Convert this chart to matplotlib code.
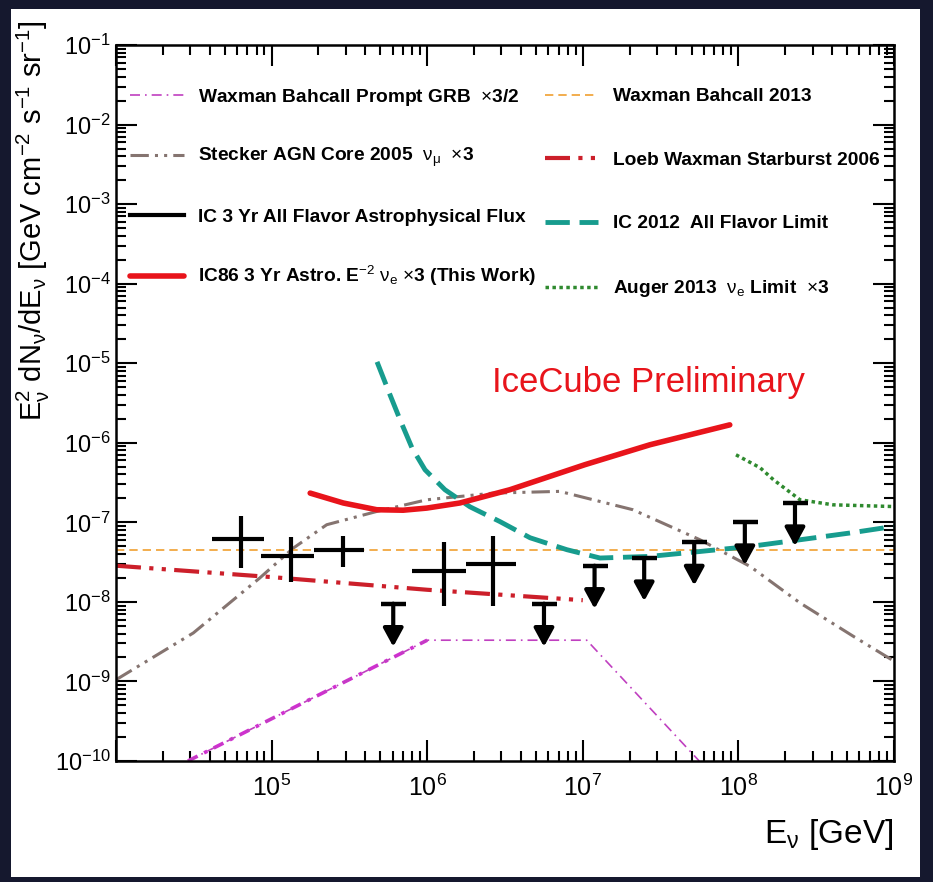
import numpy as np
import matplotlib
matplotlib.use('Agg')
import matplotlib.pyplot as plt
from matplotlib.patches import Rectangle
from matplotlib.ticker import LogLocator, NullFormatter

plt.rcParams['font.family'] = ['Liberation Sans', 'DejaVu Sans']
plt.rcParams['mathtext.fontset'] = 'custom'
plt.rcParams['mathtext.rm'] = 'Liberation Sans'
plt.rcParams['mathtext.it'] = 'Liberation Sans:italic'
plt.rcParams['mathtext.bf'] = 'Liberation Sans:bold'

# energies in GeV, E^2 dN/dE in GeV cm^-2 s^-1 sr^-1
grb_e = [2.9e4, 1.0e6, 1.06e7, 5.6e7]
grb_f = [1.0e-10, 3.3e-9, 3.3e-9, 1.0e-10]

stecker_e = [1e4, 3.14e4, 8.4e4, 1.38e5, 2.26e5, 4.74e5, 9.93e5, 2.66e6, 7.1e6,
             2.1e7, 5.66e7, 1.19e8, 2.49e8, 5.47e8, 1e9]
stecker_f = [1.05e-9, 4.07e-9, 2.0e-8, 4.75e-8, 9.33e-8, 1.37e-7, 1.92e-7, 2.33e-7, 2.45e-7,
             1.44e-7, 6.04e-8, 2.79e-8, 9.7e-9, 3.7e-9, 1.8e-9]

wb2013_e = [1e4, 1e9]
wb2013_f = [4.43e-8, 4.43e-8]

loeb_e = [1e4, 1e5, 1e6, 1e7]
loeb_f = [2.85e-8, 2.05e-8, 1.42e-8, 1.05e-8]

ic86_e = [1.77e5, 2.26e5, 2.89e5, 4.74e5, 7.0e5, 9.93e5, 1.62e6, 3.4e6, 1.03e7, 2.7e7, 8.8e7]
ic86_f = [2.33e-7, 2.02e-7, 1.75e-7, 1.44e-7, 1.42e-7, 1.51e-7, 1.75e-7, 2.57e-7, 5.3e-7, 9.44e-7, 1.68e-6]

ic2012_e = [4.76e5, 5.77e5, 6.69e5, 7.99e5, 9.68e5, 1.30e6, 1.88e6, 2.94e6, 4.58e6, 7.9e6,
            1.29e7, 2.7e7, 5.66e7, 1.19e8, 2.49e8, 5.2e8, 1e9]
ic2012_f = [1.04e-5, 4.0e-6, 1.95e-6, 8.6e-7, 4.58e-7, 2.57e-7, 1.57e-7, 1.02e-7, 6.4e-8, 4.53e-8,
            3.56e-8, 3.73e-8, 4.3e-8, 4.98e-8, 6.04e-8, 7.34e-8, 8.9e-8]

auger_e = [9.65e7, 1.38e8, 1.68e8, 2.49e8, 4.06e8, 9.86e8]
auger_f = [7.06e-7, 4.85e-7, 3.43e-7, 1.92e-7, 1.66e-7, 1.58e-7]

# IC 3 yr all flavor points
pts_e = [6.4e4, 1.33e5, 2.89e5, 1.28e6, 2.64e6]
pts_elo = [4.12e4, 8.6e4, 1.87e5, 8.0e5, 1.78e6]
pts_ehi = [8.9e4, 1.87e5, 3.9e5, 1.78e6, 3.7e6]
pts_f = [6.17e-8, 3.8e-8, 4.53e-8, 2.47e-8, 3.02e-8]
pts_flo = [2.67e-8, 1.76e-8, 2.74e-8, 8.8e-9, 8.8e-9]
pts_fhi = [1.19e-7, 6.5e-8, 6.65e-8, 5.66e-8, 6.8e-8]

# upper limits
ul_e = [6.05e5, 5.63e6, 1.19e7, 2.48e7, 5.2e7, 1.1e8, 2.31e8]
ul_f = [9.5e-9, 9.5e-9, 2.85e-8, 3.56e-8, 5.6e-8, 1.01e-7, 1.75e-7]

xtick_vals = [1e4, 1e5, 1e6, 1e7, 1e8, 1e9]
xtick_labels = ['', r'$10^{5}$', r'$10^{6}$', r'$10^{7}$', r'$10^{8}$', r'$10^{9}$']
ytick_vals = [10.0 ** k for k in range(-10, 0)]
ytick_labels = [r'$10^{%d}$' % k for k in range(-10, 0)]

labels = [
    r'Waxman Bahcall Prompt GRB  $\times$3/2',
    r'Stecker AGN Core 2005  $\mathrm{\nu_{\mu}}$  $\times$3',
    'IC 3 Yr All Flavor Astrophysical Flux',
    r'IC86 3 Yr Astro. E$^{-2}$ $\mathrm{\nu_{e}}$ $\times$3 (This Work)',
    'Waxman Bahcall 2013',
    'Loeb Waxman Starburst 2006',
    'IC 2012  All Flavor Limit',
    r'Auger 2013  $\mathrm{\nu_{e}}$ Limit  $\times$3',
]

W, H = 933, 882
fig = plt.figure(figsize=(W / 100, H / 100), dpi=100, facecolor='#15182e')
fig.patches.append(Rectangle((11 / W, 5 / H), 909 / W, 868 / H, transform=fig.transFigure,
                             facecolor='white', edgecolor='none', zorder=-5))
ax = fig.add_axes([116 / W, 121 / H, 778 / W, 716 / H])

dashdotdot = (0, (6, 2, 1, 2, 1, 2))

ax.plot(grb_e[:2], grb_f[:2], color='#d030d0', lw=2.6, ls=(0, (3, 2, 1, 2)))
h_grb, = ax.plot(grb_e, grb_f, color='#c040c0', lw=1.2, ls=(0, (6, 3, 1, 3)))
h_st, = ax.plot(stecker_e, stecker_f, color='#857470', lw=2.2, ls=dashdotdot)
h_wb, = ax.plot(wb2013_e, wb2013_f, color='#f0a030', lw=1.2, ls=(0, (5, 3)))
h_loeb, = ax.plot(loeb_e, loeb_f, color='#cc1f2a', lw=3, ls=dashdotdot)
h_ic12, = ax.plot(ic2012_e, ic2012_f, color='#179c8e', lw=3.5, ls=(0, (5, 2)))
h_aug, = ax.plot(auger_e, auger_f, color='#2f8a2f', lw=2.5, ls=(0, (1, 1)))
h_ic86, = ax.plot(ic86_e, ic86_f, color='#e8141b', lw=4, solid_capstyle='round')

xerr = [np.subtract(pts_e, pts_elo), np.subtract(pts_ehi, pts_e)]
yerr = [np.subtract(pts_f, pts_flo), np.subtract(pts_fhi, pts_f)]
ax.errorbar(pts_e, pts_f, xerr=xerr, yerr=yerr, fmt='none', ecolor='black', elinewidth=3, capsize=0)
h_pts, = ax.plot([], [], color='black', lw=3)

ax.plot(ul_e, ul_f, ls='none', marker='_', markersize=18, mew=3.2, color='black')
for e, f in zip(ul_e, ul_f):
    ax.annotate('', xy=(e, f), xytext=(0, -31), textcoords='offset points',
                arrowprops=dict(arrowstyle='<|-,head_length=0.55,head_width=0.3', color='black',
                                lw=3, shrinkA=0, shrinkB=0, mutation_scale=20))

ax.set_xscale('log')
ax.set_yscale('log')
ax.set_xlim(1e4, 1e9)
ax.set_ylim(1e-10, 1e-1)
ax.set_xticks(xtick_vals, labels=xtick_labels)
ax.set_yticks(ytick_vals, labels=ytick_labels)
ax.xaxis.set_minor_locator(LogLocator(base=10, subs=np.arange(2, 10), numticks=100))
ax.yaxis.set_minor_locator(LogLocator(base=10, subs=np.arange(2, 10), numticks=100))
ax.xaxis.set_minor_formatter(NullFormatter())
ax.yaxis.set_minor_formatter(NullFormatter())
ax.tick_params(which='both', direction='in', top=True, right=True, width=1.5, color='black')
ax.tick_params(which='major', length=15)
ax.tick_params(which='minor', length=7.5)
ax.tick_params(axis='x', labelsize=18, pad=10)
ax.tick_params(axis='y', labelsize=17, pad=4)
for s in ax.spines.values():
    s.set_linewidth(1.8)

ax.text(0.684, 0.529, 'IceCube Preliminary', transform=ax.transAxes, color='#e8141b',
        fontsize=25, ha='center', va='center')

kw = dict(loc='upper left', frameon=False, prop=dict(size=13.8, weight='bold'), handlelength=2.8,
          handletextpad=0.75, borderaxespad=0, borderpad=0)
leg1 = ax.legend([h_grb, h_st, h_pts, h_ic86], labels[:4], bbox_to_anchor=(0.018, 0.942),
                 labelspacing=2.02, **kw)
ax.add_artist(leg1)
ax.legend([h_wb, h_loeb, h_ic12, h_aug], labels[4:], bbox_to_anchor=(0.551, 0.94),
          labelspacing=2.4, **kw)

fig.text(33 / W, 1 - 20 / H,
         r'E$^{2}_{\mathrm{\nu}}$ dN$_{\mathrm{\nu}}$/dE$_{\mathrm{\nu}}$ [GeV cm$^{-2}$ s$^{-1}$ sr$^{-1}$]',
         rotation=90, ha='center', va='top', fontsize=21)
fig.text(893 / W, 1 - 835 / H, r'E$_{\mathrm{\nu}}$ [GeV]', ha='right', va='center', fontsize=24)

fig.savefig('out.png', dpi=100, facecolor=fig.get_facecolor())
